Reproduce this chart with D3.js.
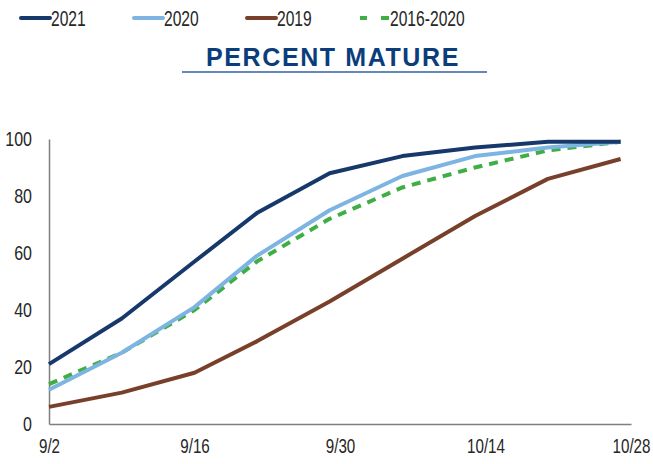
<!DOCTYPE html>
<html>
<head>
<meta charset="utf-8">
<script src="https://cdn.jsdelivr.net/npm/d3@7"></script>
<style>
  html, body { margin: 0; padding: 0; background: #fff; }
  svg { display: block; }
</style>
</head>
<body>
<svg id="chart" width="653" height="464"></svg>
<script>
// ---- data ----
const dates = ["9/2", "9/9", "9/16", "9/22", "9/29", "10/6", "10/13", "10/20", "10/27"];
const series2021 = [21, 37, 57, 74, 88, 94, 97, 99, 99];
const series2020 = [12, 25, 41, 59, 75, 87, 94, 97, 99];
const series2019 = [6, 11, 18, 29, 43, 58, 73, 86, 93];
const series1620 = [14, 25, 40, 57, 72, 83, 90, 96, 99];
const seriesNames = ["2021", "2020", "2019", "2016-2020"];
const xTickLabels = ["9/2", "9/16", "9/30", "10/14", "10/28"];
const yTicks = [0, 20, 40, 60, 80, 100];
const title = "PERCENT MATURE";

const parse = s => { const [m, d] = s.split("/").map(Number); return new Date(2021, m - 1, d); };

const svg = d3.select("#chart");
const margin = { left: 49, right: 22, top: 139, bottom: 40 };
const W = 653, H = 464;

const x = d3.scaleTime()
  .domain([parse(xTickLabels[0]), parse(xTickLabels[xTickLabels.length - 1])])
  .range([margin.left, W - margin.right]);
const y = d3.scaleLinear().domain([0, 100]).range([H - margin.bottom, margin.top]);

const styles = [
  { name: seriesNames[0], values: series2021, color: "#17386a", dash: null },
  { name: seriesNames[1], values: series2020, color: "#7db4e2", dash: null },
  { name: seriesNames[2], values: series2019, color: "#78402a", dash: null },
  { name: seriesNames[3], values: series1620, color: "#3fae45", dash: "9,7" }
];

const fontFam = "'Liberation Sans', Arial, sans-serif";
// condense text horizontally (the original uses a narrow face)
function condense(sel, factor) {
  sel.each(function () {
    const w = this.getComputedTextLength();
    d3.select(this).attr("textLength", w * factor).attr("lengthAdjust", "spacingAndGlyphs");
  });
}

// axes
const yAxis = d3.axisLeft(y).tickValues(yTicks).tickSize(0).tickPadding(17);
const gy = svg.append("g").attr("transform", `translate(${margin.left},0)`).call(yAxis);
gy.select(".domain").attr("stroke", "#7f7f7f").attr("stroke-width", 1.5);
gy.selectAll("text").attr("font-family", fontFam).attr("font-size", 20).attr("fill", "#262626").call(condense, 0.8);

const xAxis = d3.axisBottom(x).tickValues(xTickLabels.map(parse)).tickSize(0).tickPadding(15)
  .tickFormat((d, i) => xTickLabels[i]);
const gx = svg.append("g").attr("transform", `translate(0,${y(0)})`).call(xAxis);
gx.select(".domain").attr("stroke", "#7f7f7f").attr("stroke-width", 1.5);
const xs = 0.76;
gx.selectAll("text").attr("font-family", fontFam).attr("font-size", 20).attr("fill", "#262626")
  .attr("transform", `scale(${xs},1)`);
// keep the last label inside the frame: right-align it near the picture's edge
gx.selectAll(".tick").filter((d, i, n) => i === n.length - 1).select("text")
  .attr("text-anchor", "end")
  .attr("x", (W - 3 - x(parse(xTickLabels[xTickLabels.length - 1]))) / xs);

// lines
const line = d3.line().x((d, i) => x(parse(dates[i]))).y(d => y(d));
const drawOrder = [2, 3, 1, 0];
drawOrder.forEach(k => {
  const s = styles[k];
  svg.append("path")
    .datum(s.values)
    .attr("fill", "none")
    .attr("stroke", s.color)
    .attr("stroke-width", 4)
    .attr("stroke-linejoin", "round")
    .attr("stroke-dasharray", s.dash)
    .attr("d", line);
});

// legend
const legendX = [21, 134, 247, 360];
const lg = svg.append("g");
styles.forEach((s, i) => {
  const g = lg.append("g").attr("transform", `translate(${legendX[i]},18)`);
  g.append("line").attr("x1", 0).attr("x2", 29).attr("y1", 0).attr("y2", 0)
    .attr("stroke", s.color).attr("stroke-width", 4)
    .attr("stroke-linecap", s.dash ? "butt" : "round")
    .attr("stroke-dasharray", s.dash ? "7,14" : null);
  if (s.dash) {
    g.append("line").attr("x1", 22).attr("x2", 29).attr("y1", 0).attr("y2", 0)
      .attr("stroke", s.color).attr("stroke-width", 4);
  }
  g.append("text").attr("x", 30).attr("y", 8)
    .attr("font-family", fontFam).attr("font-size", 22).attr("fill", "#262626")
    .text(s.name)
    .call(condense, 0.71);
});

// title
svg.append("text")
  .attr("x", 333).attr("y", 66)
  .attr("text-anchor", "middle")
  .attr("font-family", fontFam)
  .attr("font-weight", "bold")
  .attr("font-size", 25)
  .attr("letter-spacing", 1.6)
  .attr("fill", "#0b3d7c")
  .text(title);
svg.append("line")
  .attr("x1", 182).attr("x2", 487).attr("y1", 72).attr("y2", 72)
  .attr("stroke", "#2f62a6").attr("stroke-width", 1.5);
</script>
</body>
</html>
